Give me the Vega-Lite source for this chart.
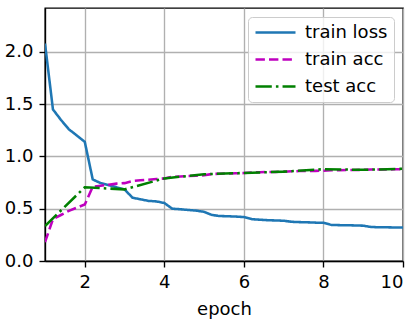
{
  "$schema": "https://vega.github.io/schema/vega-lite/v6.json",
  "width": 358,
  "height": 253,
  "autosize": {"type": "none"},
  "padding": {"left": 45, "top": 8, "right": 12, "bottom": 65},
  "config": {
    "font": "DejaVu Sans",
    "view": {"stroke": "black", "strokeWidth": 1.36},
    "axis": {
      "domainColor": "black", "domainWidth": 1.36,
      "tickColor": "black", "tickWidth": 1.36, "tickSize": 6,
      "labelPadding": 6, "labelFontSize": 18, "labelColor": "black",
      "gridColor": "#b0b0b0", "gridWidth": 1.36,
      "titleFontSize": 18, "titleFontWeight": "normal", "titleColor": "black"
    }
  },
  "data": {"values": [
    {"epoch": 1.0, "value": 2.08, "series": "train loss"},
    {"epoch": 1.2, "value": 1.45, "series": "train loss"},
    {"epoch": 1.4, "value": 1.35, "series": "train loss"},
    {"epoch": 1.6, "value": 1.26, "series": "train loss"},
    {"epoch": 1.8, "value": 1.20, "series": "train loss"},
    {"epoch": 2.0, "value": 1.14, "series": "train loss"},
    {"epoch": 2.2, "value": 0.78, "series": "train loss"},
    {"epoch": 2.4, "value": 0.745, "series": "train loss"},
    {"epoch": 2.6, "value": 0.725, "series": "train loss"},
    {"epoch": 2.8, "value": 0.705, "series": "train loss"},
    {"epoch": 3.0, "value": 0.685, "series": "train loss"},
    {"epoch": 3.2, "value": 0.605, "series": "train loss"},
    {"epoch": 3.4, "value": 0.59, "series": "train loss"},
    {"epoch": 3.6, "value": 0.575, "series": "train loss"},
    {"epoch": 3.8, "value": 0.57, "series": "train loss"},
    {"epoch": 4.0, "value": 0.555, "series": "train loss"},
    {"epoch": 4.2, "value": 0.50, "series": "train loss"},
    {"epoch": 4.4, "value": 0.495, "series": "train loss"},
    {"epoch": 4.6, "value": 0.488, "series": "train loss"},
    {"epoch": 4.8, "value": 0.482, "series": "train loss"},
    {"epoch": 5.0, "value": 0.47, "series": "train loss"},
    {"epoch": 5.2, "value": 0.44, "series": "train loss"},
    {"epoch": 5.4, "value": 0.43, "series": "train loss"},
    {"epoch": 5.6, "value": 0.428, "series": "train loss"},
    {"epoch": 5.8, "value": 0.425, "series": "train loss"},
    {"epoch": 6.0, "value": 0.42, "series": "train loss"},
    {"epoch": 6.2, "value": 0.40, "series": "train loss"},
    {"epoch": 6.4, "value": 0.395, "series": "train loss"},
    {"epoch": 6.6, "value": 0.39, "series": "train loss"},
    {"epoch": 6.8, "value": 0.388, "series": "train loss"},
    {"epoch": 7.0, "value": 0.385, "series": "train loss"},
    {"epoch": 7.2, "value": 0.375, "series": "train loss"},
    {"epoch": 7.4, "value": 0.372, "series": "train loss"},
    {"epoch": 7.6, "value": 0.37, "series": "train loss"},
    {"epoch": 7.8, "value": 0.367, "series": "train loss"},
    {"epoch": 8.0, "value": 0.365, "series": "train loss"},
    {"epoch": 8.2, "value": 0.345, "series": "train loss"},
    {"epoch": 8.4, "value": 0.343, "series": "train loss"},
    {"epoch": 8.6, "value": 0.342, "series": "train loss"},
    {"epoch": 8.8, "value": 0.340, "series": "train loss"},
    {"epoch": 9.0, "value": 0.338, "series": "train loss"},
    {"epoch": 9.2, "value": 0.325, "series": "train loss"},
    {"epoch": 9.4, "value": 0.323, "series": "train loss"},
    {"epoch": 9.6, "value": 0.322, "series": "train loss"},
    {"epoch": 9.8, "value": 0.321, "series": "train loss"},
    {"epoch": 10.0, "value": 0.32, "series": "train loss"},
    {"epoch": 1.0, "value": 0.18, "series": "train acc"},
    {"epoch": 1.2, "value": 0.40, "series": "train acc"},
    {"epoch": 1.4, "value": 0.44, "series": "train acc"},
    {"epoch": 1.6, "value": 0.48, "series": "train acc"},
    {"epoch": 1.8, "value": 0.51, "series": "train acc"},
    {"epoch": 2.0, "value": 0.54, "series": "train acc"},
    {"epoch": 2.2, "value": 0.71, "series": "train acc"},
    {"epoch": 2.4, "value": 0.72, "series": "train acc"},
    {"epoch": 2.6, "value": 0.73, "series": "train acc"},
    {"epoch": 2.8, "value": 0.74, "series": "train acc"},
    {"epoch": 3.0, "value": 0.745, "series": "train acc"},
    {"epoch": 3.2, "value": 0.765, "series": "train acc"},
    {"epoch": 3.4, "value": 0.772, "series": "train acc"},
    {"epoch": 3.6, "value": 0.778, "series": "train acc"},
    {"epoch": 3.8, "value": 0.784, "series": "train acc"},
    {"epoch": 4.0, "value": 0.79, "series": "train acc"},
    {"epoch": 4.2, "value": 0.805, "series": "train acc"},
    {"epoch": 4.4, "value": 0.808, "series": "train acc"},
    {"epoch": 4.6, "value": 0.812, "series": "train acc"},
    {"epoch": 4.8, "value": 0.816, "series": "train acc"},
    {"epoch": 5.0, "value": 0.82, "series": "train acc"},
    {"epoch": 5.2, "value": 0.832, "series": "train acc"},
    {"epoch": 5.4, "value": 0.835, "series": "train acc"},
    {"epoch": 5.6, "value": 0.837, "series": "train acc"},
    {"epoch": 5.8, "value": 0.839, "series": "train acc"},
    {"epoch": 6.0, "value": 0.841, "series": "train acc"},
    {"epoch": 6.2, "value": 0.847, "series": "train acc"},
    {"epoch": 6.4, "value": 0.849, "series": "train acc"},
    {"epoch": 6.6, "value": 0.851, "series": "train acc"},
    {"epoch": 6.8, "value": 0.852, "series": "train acc"},
    {"epoch": 7.0, "value": 0.854, "series": "train acc"},
    {"epoch": 7.2, "value": 0.858, "series": "train acc"},
    {"epoch": 7.4, "value": 0.86, "series": "train acc"},
    {"epoch": 7.6, "value": 0.861, "series": "train acc"},
    {"epoch": 7.8, "value": 0.862, "series": "train acc"},
    {"epoch": 8.0, "value": 0.864, "series": "train acc"},
    {"epoch": 8.2, "value": 0.868, "series": "train acc"},
    {"epoch": 8.4, "value": 0.869, "series": "train acc"},
    {"epoch": 8.6, "value": 0.87, "series": "train acc"},
    {"epoch": 8.8, "value": 0.871, "series": "train acc"},
    {"epoch": 9.0, "value": 0.872, "series": "train acc"},
    {"epoch": 9.2, "value": 0.875, "series": "train acc"},
    {"epoch": 9.4, "value": 0.876, "series": "train acc"},
    {"epoch": 9.6, "value": 0.876, "series": "train acc"},
    {"epoch": 9.8, "value": 0.877, "series": "train acc"},
    {"epoch": 10.0, "value": 0.878, "series": "train acc"},
    {"epoch": 1, "value": 0.335, "series": "test acc"},
    {"epoch": 2, "value": 0.705, "series": "test acc"},
    {"epoch": 3, "value": 0.685, "series": "test acc"},
    {"epoch": 4, "value": 0.79, "series": "test acc"},
    {"epoch": 5, "value": 0.83, "series": "test acc"},
    {"epoch": 6, "value": 0.842, "series": "test acc"},
    {"epoch": 7, "value": 0.855, "series": "test acc"},
    {"epoch": 8, "value": 0.878, "series": "test acc"},
    {"epoch": 9, "value": 0.872, "series": "test acc"},
    {"epoch": 10, "value": 0.882, "series": "test acc"}
  ]},
  "mark": {"type": "line", "strokeWidth": 2.55, "clip": true},
  "encoding": {
    "x": {
      "field": "epoch", "type": "quantitative",
      "scale": {"domain": [1, 10], "nice": false, "zero": false},
      "axis": {"values": [2, 4, 6, 8, 10], "title": "epoch", "titlePadding": 9, "format": "d"}
    },
    "y": {
      "field": "value", "type": "quantitative",
      "scale": {"domain": [0, 2.42], "nice": false},
      "axis": {"values": [0, 0.5, 1, 1.5, 2], "title": null, "format": ".1f"}
    },
    "color": {
      "field": "series", "type": "nominal",
      "scale": {"domain": ["train loss", "train acc", "test acc"], "range": ["#1f77b4", "#bf00bf", "#008000"]},
      "legend": {
        "title": null, "orient": "top-right", "offset": 9,
        "symbolType": "M-1,0H4", "symbolSize": 256, "symbolStrokeWidth": 2.55,
        "labelFontSize": 18, "labelColor": "black", "labelOffset": 32,
        "rowPadding": 8, "padding": 6,
        "strokeColor": "#cccccc", "fillColor": "rgba(255,255,255,0.8)", "cornerRadius": 4
      }
    },
    "strokeDash": {
      "field": "series", "type": "nominal",
      "scale": {"domain": ["train loss", "train acc", "test acc"], "range": [[1, 0], [9.4, 4.1], [16.3, 4.1, 2.55, 4.1]]},
      "legend": {
        "title": null, "orient": "top-right", "offset": 9,
        "symbolType": "M-1,0H4", "symbolSize": 256, "symbolStrokeWidth": 2.55,
        "labelFontSize": 18, "labelColor": "black", "labelOffset": 32,
        "rowPadding": 8, "padding": 6,
        "strokeColor": "#cccccc", "fillColor": "rgba(255,255,255,0.8)", "cornerRadius": 4
      }
    }
  }
}
